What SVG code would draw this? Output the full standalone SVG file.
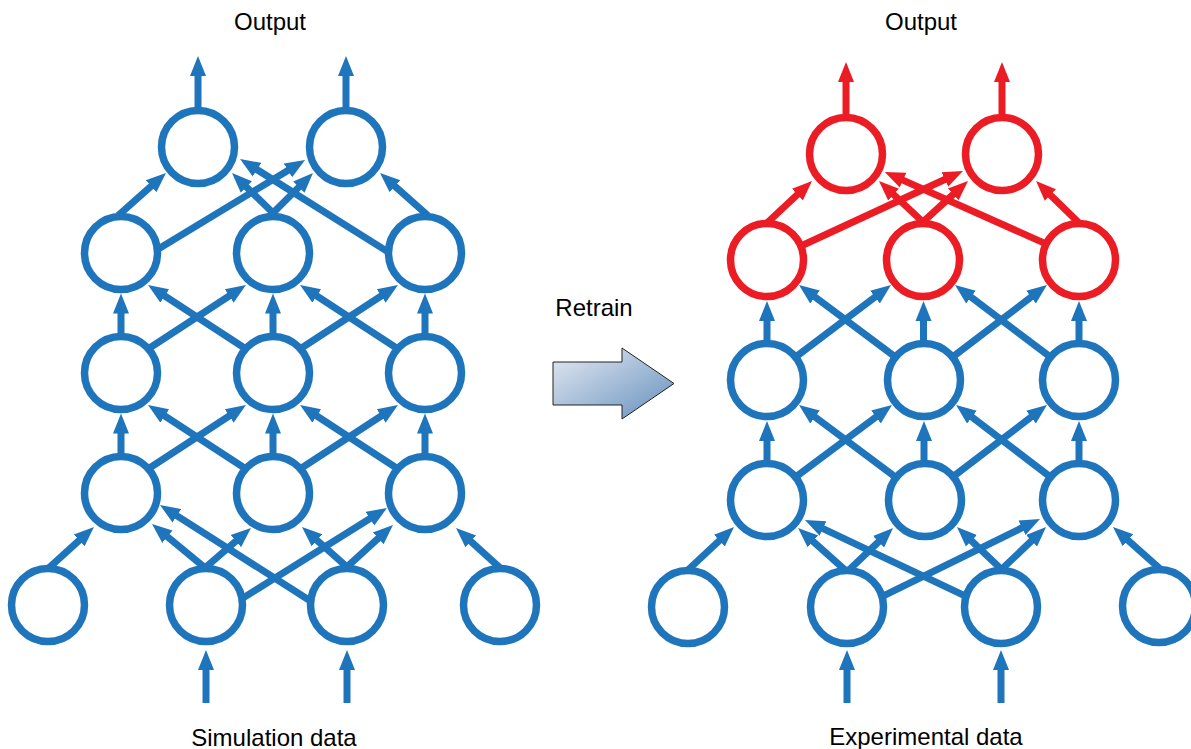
<svg xmlns="http://www.w3.org/2000/svg" width="1191" height="749" viewBox="0 0 1191 749">
<style>
.t{font-family:"Liberation Sans",Arial,Helvetica,sans-serif;font-size:24px;fill:#000;text-anchor:middle}
.b{stroke:#1f75bc;stroke-width:7;fill:none;marker-end:url(#ab)}
.r{stroke:#ec1c24;stroke-width:7;fill:none;marker-end:url(#ar)}
.nb{fill:#fff;stroke:#1f75bc;stroke-width:7.5}
.nr{fill:#fff;stroke:#ec1c24;stroke-width:7.5}
</style>
<defs>
<marker id="ab" viewBox="-10 -9 21 18" refX="0" refY="0" markerWidth="21" markerHeight="18" markerUnits="userSpaceOnUse" orient="auto"><path d="M-10,-8 L10,0 L-10,8 Z" fill="#1f75bc"/></marker>
<marker id="ar" viewBox="-10 -9 21 18" refX="0" refY="0" markerWidth="21" markerHeight="18" markerUnits="userSpaceOnUse" orient="auto"><path d="M-10,-8 L10,0 L-10,8 Z" fill="#ec1c24"/></marker>
<linearGradient id="g" x1="0" y1="0" x2="1" y2="1">
<stop offset="0" stop-color="#e6ebf3"/>
<stop offset="1" stop-color="#648fbd"/>
</linearGradient>
</defs>

<g id="labels">
<text class="t" x="270" y="30">Output</text>
<text class="t" x="921" y="30">Output</text>
<text class="t" x="594" y="316">Retrain</text>
<text class="t" x="274" y="746">Simulation data</text>
<text class="t" x="926" y="745">Experimental data</text>
</g>

<g id="retrain-arrow">
<path d="M553,362 L622,362 L622,348 L674,383.5 L622,419 L622,405 L553,405 Z" fill="url(#g)" stroke="#222" stroke-width="1"/>
</g>

<g id="connectors">
<!-- left network -->
<line class="b" x1="198" y1="110" x2="198" y2="66"/>
<line class="b" x1="346" y1="110" x2="346" y2="66"/>
<line class="b" x1="118" y1="215.7" x2="158.5" y2="179.6"/>
<line class="b" x1="275.9" y1="215.8" x2="239.2" y2="180"/>
<line class="b" x1="270.2" y1="215.8" x2="305.9" y2="180.1"/>
<line class="b" x1="428" y1="215.7" x2="387.5" y2="179.6"/>
<line class="b" x1="156.6" y1="250.1" x2="296.5" y2="165.2"/>
<line class="b" x1="388.4" y1="252.1" x2="248.5" y2="164.3"/>
<line class="b" x1="121" y1="336" x2="121" y2="303.5"/>
<line class="b" x1="273" y1="336" x2="273" y2="303.5"/>
<line class="b" x1="425" y1="336" x2="425" y2="303.5"/>
<line class="b" x1="147.6" y1="349.2" x2="237.6" y2="290.5"/>
<line class="b" x1="299.6" y1="349.2" x2="389.6" y2="290.5"/>
<line class="b" x1="246.4" y1="349.2" x2="156.4" y2="290.5"/>
<line class="b" x1="398.4" y1="349.2" x2="308.4" y2="290.5"/>
<line class="b" x1="121" y1="456" x2="121" y2="423.5"/>
<line class="b" x1="273" y1="456" x2="273" y2="423.5"/>
<line class="b" x1="425" y1="456" x2="425" y2="423.5"/>
<line class="b" x1="147.6" y1="469.2" x2="237.6" y2="410.5"/>
<line class="b" x1="299.6" y1="469.2" x2="389.6" y2="410.5"/>
<line class="b" x1="246.4" y1="469.2" x2="156.4" y2="410.5"/>
<line class="b" x1="398.4" y1="469.2" x2="308.4" y2="410.5"/>
<line class="b" x1="47" y1="569.7" x2="86.6" y2="533.7"/>
<line class="b" x1="207.1" y1="569.5" x2="159.7" y2="530.4"/>
<line class="b" x1="203" y1="569.6" x2="243.4" y2="534.6"/>
<line class="b" x1="239.6" y1="600.1" x2="378.5" y2="513.3"/>
<line class="b" x1="312.4" y1="602.2" x2="168.4" y2="510.4"/>
<line class="b" x1="350" y1="569.7" x2="309.5" y2="533.6"/>
<line class="b" x1="344" y1="569.7" x2="385.6" y2="531.7"/>
<line class="b" x1="502" y1="569.7" x2="463.4" y2="534.7"/>
<line class="b" x1="206" y1="703" x2="206" y2="660"/>
<line class="b" x1="347" y1="703" x2="347" y2="660"/>
<!-- right network -->
<line class="r" x1="846" y1="117" x2="846" y2="72"/>
<line class="r" x1="1002" y1="117" x2="1002" y2="72"/>
<line class="r" x1="765.1" y1="224.7" x2="804.7" y2="187.8"/>
<line class="r" x1="925.9" y1="224.7" x2="886.3" y2="187.8"/>
<line class="r" x1="920" y1="224.7" x2="960.6" y2="187.7"/>
<line class="r" x1="1080.9" y1="224.8" x2="1043.2" y2="188"/>
<line class="r" x1="799.4" y1="246.7" x2="953.9" y2="175.2"/>
<line class="r" x1="1047.7" y1="244.6" x2="893.9" y2="176.1"/>
<line class="b" x1="767" y1="343" x2="767" y2="311"/>
<line class="b" x1="923.5" y1="343" x2="923.5" y2="311"/>
<line class="b" x1="1079" y1="343" x2="1079" y2="311"/>
<line class="b" x1="793.8" y1="358.4" x2="883" y2="291"/>
<line class="b" x1="950.8" y1="358.4" x2="1039" y2="291"/>
<line class="b" x1="897.2" y1="358.4" x2="807" y2="291"/>
<line class="b" x1="1052.2" y1="358.4" x2="963" y2="291"/>
<line class="b" x1="767" y1="463" x2="767" y2="431"/>
<line class="b" x1="924" y1="463" x2="924" y2="431"/>
<line class="b" x1="1079" y1="463" x2="1079" y2="431"/>
<line class="b" x1="793.8" y1="478.4" x2="884" y2="411"/>
<line class="b" x1="950.8" y1="478.4" x2="1039" y2="411"/>
<line class="b" x1="897.2" y1="478.4" x2="807" y2="411"/>
<line class="b" x1="1052.2" y1="478.4" x2="964" y2="411"/>
<line class="b" x1="687.1" y1="570.7" x2="726.7" y2="533.8"/>
<line class="b" x1="848" y1="572.7" x2="805.5" y2="534.7"/>
<line class="b" x1="846.1" y1="572.8" x2="885.8" y2="534.9"/>
<line class="b" x1="881.4" y1="596.8" x2="1031" y2="523.4"/>
<line class="b" x1="966.6" y1="596.7" x2="814" y2="524.3"/>
<line class="b" x1="1002.9" y1="570.8" x2="964.2" y2="533.9"/>
<line class="b" x1="1000.1" y1="570.8" x2="1038.8" y2="533.9"/>
<line class="b" x1="1161" y1="569.7" x2="1120.5" y2="533.6"/>
<line class="b" x1="847" y1="703" x2="847" y2="660"/>
<line class="b" x1="1001" y1="703" x2="1001" y2="660"/>
</g>

<!-- left network nodes -->
<g id="L-out1"><circle class="nb" cx="198" cy="147" r="36.5"/></g>
<g id="L-out2"><circle class="nb" cx="346" cy="147" r="36.5"/></g>
<g id="L-h1a"><circle class="nb" cx="121" cy="253" r="36.5"/></g>
<g id="L-h1b"><circle class="nb" cx="273" cy="253" r="36.5"/></g>
<g id="L-h1c"><circle class="nb" cx="425" cy="253" r="36.5"/></g>
<g id="L-h2a"><circle class="nb" cx="121" cy="373" r="36.5"/></g>
<g id="L-h2b"><circle class="nb" cx="273" cy="373" r="36.5"/></g>
<g id="L-h2c"><circle class="nb" cx="425" cy="373" r="36.5"/></g>
<g id="L-h3a"><circle class="nb" cx="121" cy="493" r="36.5"/></g>
<g id="L-h3b"><circle class="nb" cx="273" cy="493" r="36.5"/></g>
<g id="L-h3c"><circle class="nb" cx="425" cy="493" r="36.5"/></g>
<g id="L-in1"><circle class="nb" cx="48" cy="605" r="36.5"/></g>
<g id="L-in2"><circle class="nb" cx="206" cy="605" r="36.5"/></g>
<g id="L-in3"><circle class="nb" cx="347" cy="605" r="36.5"/></g>
<g id="L-in4"><circle class="nb" cx="500" cy="605" r="36.5"/></g>

<!-- right network nodes -->
<g id="R-out1"><circle class="nr" cx="846" cy="154" r="36.5"/></g>
<g id="R-out2"><circle class="nr" cx="1002" cy="154" r="36.5"/></g>
<g id="R-h1a"><circle class="nr" cx="767" cy="260" r="36.5"/></g>
<g id="R-h1b"><circle class="nr" cx="923" cy="260" r="36.5"/></g>
<g id="R-h1c"><circle class="nr" cx="1079" cy="260" r="36.5"/></g>
<g id="R-h2a"><circle class="nb" cx="767" cy="380" r="36.5"/></g>
<g id="R-h2b"><circle class="nb" cx="924" cy="380" r="36.5"/></g>
<g id="R-h2c"><circle class="nb" cx="1079" cy="380" r="36.5"/></g>
<g id="R-h3a"><circle class="nb" cx="767" cy="500" r="36.5"/></g>
<g id="R-h3b"><circle class="nb" cx="925" cy="500" r="36.5"/></g>
<g id="R-h3c"><circle class="nb" cx="1079" cy="500" r="36.5"/></g>
<g id="R-in1"><circle class="nb" cx="688" cy="607" r="36.5"/></g>
<g id="R-in2"><circle class="nb" cx="847" cy="607" r="36.5"/></g>
<g id="R-in3"><circle class="nb" cx="1001" cy="607" r="36.5"/></g>
<g id="R-in4"><circle class="nb" cx="1159" cy="606" r="36.5"/></g>
</svg>
